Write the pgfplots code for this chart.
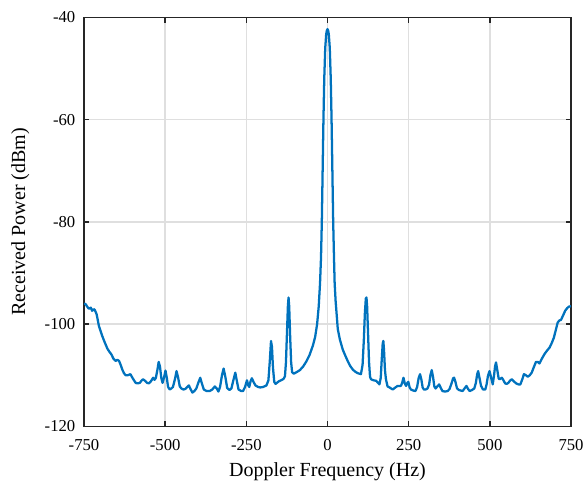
\documentclass[border=0pt]{standalone}
\usepackage{pgfplots}
\pgfplotsset{compat=1.18}
\usepackage{fontspec}
\setmainfont{Liberation Serif}
\definecolor{mblue}{RGB}{0,114,189}
\definecolor{gridgray}{RGB}{223,223,223}
\definecolor{axgray}{RGB}{38,38,38}
\begin{document}
\begin{tikzpicture}
\begin{axis}[
  name=ax,
  scale only axis,
  width=365.25pt, height=306.75pt,
  xmin=-750, xmax=750, ymin=-120, ymax=-40,
  xtick={-750,-500,-250,0,250,500,750},
  ytick={-120,-100,-80,-60,-40},
  grid=major,
  major grid style={color=gridgray, line width=1.2pt},
  axis line style={color=axgray, line width=1.1pt},
  tick style={color=axgray, line width=1.1pt},
  major tick length=4pt,
  tick align=inside,
  /pgf/number format/assume math mode=true,
  ticklabel style={font=\fontsize{12.5}{14}\selectfont, color=black},
  xticklabel style={yshift=-6.5pt},
  yticklabel style={xshift=-3pt},
  label style={font=\fontsize{15}{17}\selectfont, color=black},
  xlabel={Doppler Frequency (Hz)},
  ylabel={Received Power (dBm)},
  xlabel style={at={(axis description cs:0.5,-0.123)}, anchor=base},
  ylabel style={at={(axis description cs:-0.131,0.5)}, anchor=center},
  clip=true,
]
\addplot[color=mblue, line width=1.7pt, line join=round] table {
x y
-750 -96.0
-745 -96.1
-740 -96.6
-735 -97.0
-729 -96.8
-725 -97.4
-720 -97.1
-717 -97.2
-711 -98.1
-704 -100.4
-694 -102.3
-686 -103.6
-678 -104.8
-672 -105.4
-666 -105.9
-659 -106.8
-653 -107.2
-647 -107.0
-642 -107.2
-637 -108.0
-632 -108.9
-627 -109.6
-622 -110.0
-615 -110.0
-607 -109.8
-600 -110.6
-591 -111.5
-585 -111.6
-578 -111.5
-572 -111.0
-568 -110.8
-562 -111.1
-556 -111.5
-550 -111.6
-544 -111.2
-537 -110.5
-533 -110.9
-529 -110.6
-524 -109.0
-520 -107.4
-516 -108.3
-512 -110.5
-508 -111.5
-503 -110.3
-499 -109.1
-495 -110.5
-491 -112.3
-486 -112.8
-481 -112.6
-476 -112.3
-470 -110.8
-465 -109.2
-460 -110.5
-455 -112.2
-450 -112.6
-444 -112.8
-438 -112.7
-432 -112.3
-427 -112.0
-422 -112.7
-416 -113.4
-410 -113.1
-404 -112.6
-398 -111.5
-392 -110.5
-387 -111.6
-381 -112.8
-372 -113.1
-363 -113.1
-355 -112.8
-347 -112.2
-341 -112.6
-336 -113.2
-331 -112.3
-325 -110.0
-320 -108.7
-315 -110.2
-309 -112.5
-302 -112.9
-296 -112.6
-290 -111.0
-284 -109.5
-279 -111.2
-274 -112.8
-266 -113.1
-260 -113.1
-254 -112.3
-248 -111.0
-244 -112.0
-241 -112.3
-237 -111.2
-233 -110.6
-228 -111.3
-222 -112.0
-214 -112.3
-207 -112.4
-198 -112.3
-188 -112.0
-182 -111.0
-178 -107.5
-174 -103.3
-171 -104.5
-168 -108.5
-164 -111.3
-160 -111.7
-150 -111.2
-140 -110.9
-135 -110.7
-131 -110.2
-128 -107.5
-125 -102.0
-122 -96.5
-120 -94.8
-118 -96.5
-115 -102.5
-112 -107.5
-109 -109.4
-104 -109.7
-95 -109.4
-85 -109.0
-75 -108.3
-65 -107.3
-55 -106.0
-45 -104.2
-38 -102.5
-32 -100.0
-27 -96.5
-23 -92.0
-20 -87.0
-17.5 -80.0
-15 -70.0
-12.5 -60.0
-10 -52.0
-7 -46.0
-4 -43.3
-2 -42.6
0 -42.3
2 -42.6
4 -43.3
7 -46.0
10 -52.0
12.5 -60
15 -70
17.5 -80
20 -87
22 -92
25 -95.5
31.7 -101
38 -103
47 -105
55 -106.2
62 -107.2
70 -108.2
78 -108.9
85 -109.3
93 -109.6
103 -109.8
108 -108
112 -103
115 -98
118 -95
120 -94.8
122 -96.5
125 -102
128 -107.5
131 -110.3
134 -110.8
142 -111
150 -111.1
156 -111.5
160 -111.8
164 -110.5
167 -107
170 -103.8
172 -103.3
174 -105
177 -109
180 -110.8
185 -112.2
191 -112.4
201 -112.8
209 -112.4
216 -112.1
226 -112.1
230 -111.5
234 -110.5
238 -111.6
242 -112.1
246 -111.5
249 -111.3
253 -112.4
257 -112.8
264 -113.0
271 -113.1
276 -112.3
281 -110.5
285 -109.8
289 -110.8
293 -112.4
297 -112.8
302 -112.8
308 -112.6
313 -111.8
317 -110.0
321 -109.0
325 -110.3
329 -112.2
333 -112.6
338 -112.2
344 -111.8
349 -112.5
354 -113.1
362 -113.2
370 -113.1
376 -112.7
382 -111.6
387 -110.6
390 -110.5
394 -111.3
399 -112.6
405 -112.9
416 -113.1
422 -112.6
428 -112.1
433 -112.7
438 -113.1
445 -112.9
452 -112.6
457 -111.5
461 -109.8
464 -109.2
468 -110.5
473 -112.1
479 -112.8
486 -112.8
490 -111.8
494 -110.2
499 -109.2
504 -110.5
509 -111.8
513 -110.0
516 -108.3
519 -107.5
523 -109.0
527 -110.6
530 -110.8
537 -110.5
542 -111.0
547 -111.6
552 -111.7
557 -111.5
563 -111.0
568 -110.8
574 -111.2
581 -111.6
588 -111.8
594 -111.8
600 -110.8
605 -109.8
611 -110.0
617 -110.3
623 -110.0
629 -109.5
635 -108.5
642 -107.4
648 -107.4
653 -107.7
660 -106.8
668 -105.9
676 -105.2
684 -104.6
690 -103.8
697 -102.7
703 -101.2
709 -99.7
714 -99.3
719 -99.2
725 -98.4
732 -97.4
738 -96.9
743 -96.6
750 -96.5
};
\end{axis}
\pgfresetboundingbox
\useasboundingbox ([xshift=-63pt,yshift=-43.5pt]ax.south west) rectangle ([xshift=12.75pt,yshift=13pt]ax.north east);
\end{tikzpicture}
\end{document}
